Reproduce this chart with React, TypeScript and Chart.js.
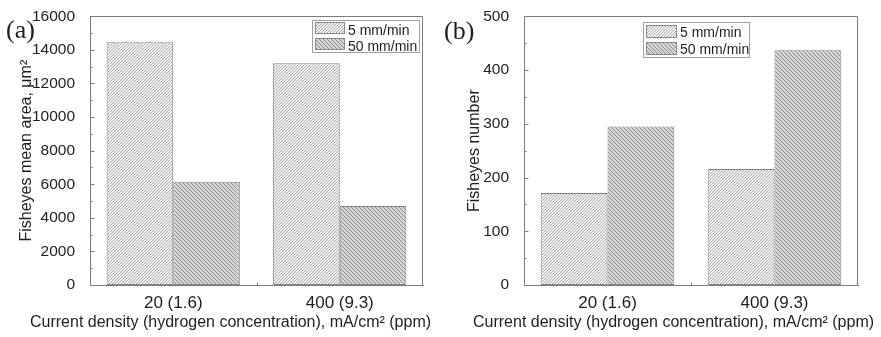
import React, { useEffect, useRef } from "react";
import { Chart, registerables } from "chart.js";

Chart.register(...registerables);

// ---------- data ----------
const categories = ["20 (1.6)", "400 (9.3)"];
const seriesLabels = ["5 mm/min", "50 mm/min"];
const meanArea5 = [14450, 13200];
const meanArea50 = [6150, 4700];
const number5 = [171, 216];
const number50 = [295, 437];
const areaMax = 16000;
const areaStep = 2000;
const numberMax = 500;
const numberStep = 100;
const xTitle = "Current density (hydrogen concentration), mA/cm\u00B2 (ppm)";
const areaTitle = "Fisheyes mean area, \u03BCm\u00B2";
const numberTitle = "Fisheyes number";

const SANS = "'Liberation Sans', Arial, sans-serif";
const SERIF = "'Liberation Serif', 'Times New Roman', serif";
const AXIS = "#7c7c7c";
const TEXT = "#1e1e1e";

function makeHatch(bg: string, fg: string, size: number, dir: "/" | "\\") {
  const c = document.createElement("canvas");
  c.width = size;
  c.height = size;
  const g = c.getContext("2d")!;
  g.fillStyle = bg;
  g.fillRect(0, 0, size, size);
  g.fillStyle = fg;
  for (let i = 0; i < size; i++) {
    if (dir === "/") g.fillRect(i, size - 1 - i, 1, 1);
    else g.fillRect(i, i, 1, 1);
  }
  return g.createPattern(c, "repeat")!;
}

const decoPlugin = {
  id: "deco",
  afterDraw(chart: any, _args: any, o: any) {
    const { ctx, chartArea: a, scales } = chart;
    const ys = scales.y;
    const xs = scales.x;
    ctx.save();
    ctx.strokeStyle = AXIS;
    ctx.lineWidth = 1;
    const L = Math.round(a.left) + 0.5;
    const R = Math.round(a.right) - 0.5;
    const T = Math.round(a.top) + 0.5;
    const B = Math.round(a.bottom) + 0.5;
    ctx.beginPath();
    ctx.moveTo(L, T);
    ctx.lineTo(R, T);
    ctx.lineTo(R, B);
    ctx.stroke();

    // inward major / minor ticks on y
    ctx.beginPath();
    const n = Math.round(ys.max / o.step) * 2;
    for (let k = 1; k < n; k++) {
      const v = (k * o.step) / 2;
      const py = Math.round(ys.getPixelForValue(v)) + 0.5;
      const len = k % 2 === 0 ? 4 : 2;
      ctx.moveTo(L, py);
      ctx.lineTo(L + len, py);
    }
    // x tick between categories
    const mid = Math.round((xs.getPixelForValue(0) + xs.getPixelForValue(1)) / 2) + 0.5;
    ctx.moveTo(mid, B);
    ctx.lineTo(mid, B - 3);
    ctx.stroke();

    // panel tag
    ctx.fillStyle = TEXT;
    ctx.font = `26px ${SERIF}`;
    ctx.textAlign = "left";
    ctx.textBaseline = "middle";
    ctx.fillText(o.tag, o.tagX, o.tagY);

    // y title
    ctx.font = `16px ${SANS}`;
    ctx.save();
    ctx.translate(o.yTitleX, (a.top + a.bottom) / 2);
    ctx.rotate(-Math.PI / 2);
    ctx.textAlign = "center";
    ctx.textBaseline = "middle";
    ctx.fillText(o.yTitle, 0, 0);
    ctx.restore();

    // x title
    ctx.textAlign = "left";
    ctx.textBaseline = "middle";
    ctx.fillText(xTitle, o.xTitleX, o.xTitleY);

    // legend
    const lg = o.legend;
    ctx.fillStyle = "#ffffff";
    ctx.fillRect(lg.x, lg.y, lg.w, lg.h);
    ctx.strokeStyle = "#a0a0a0";
    ctx.strokeRect(lg.x + 0.5, lg.y + 0.5, lg.w, lg.h);
    chart.data.datasets.forEach((ds: any, i: number) => {
      const sy = lg.sy + i * lg.row;
      ctx.fillStyle = ds.backgroundColor;
      ctx.fillRect(lg.sx, sy, lg.sw, lg.sh);
      ctx.strokeStyle = "#8a8a8a";
      ctx.strokeRect(lg.sx + 0.5, sy + 0.5, lg.sw, lg.sh);
      ctx.fillStyle = TEXT;
      ctx.font = `14px ${SANS}`;
      ctx.textBaseline = "alphabetic";
      ctx.textAlign = "left";
      ctx.fillText(ds.label, lg.tx, sy + lg.tb);
    });
    ctx.restore();
  },
};

function buildConfig(p: any, light: CanvasPattern, dark: CanvasPattern) {
  return {
    type: "bar",
    data: {
      labels: categories,
      datasets: [
        {
          label: seriesLabels[0],
          data: p.s5,
          backgroundColor: light,
          borderColor: "#858585",
          borderWidth: 1,
          borderSkipped: false,
          categoryPercentage: 0.8,
          barPercentage: 1,
        },
        {
          label: seriesLabels[1],
          data: p.s50,
          backgroundColor: dark,
          borderColor: "#858585",
          borderWidth: 1,
          borderSkipped: false,
          categoryPercentage: 0.8,
          barPercentage: 1,
        },
      ],
    },
    options: {
      responsive: false,
      animation: false,
      devicePixelRatio: 1,
      layout: { padding: { top: 16, right: p.padRight, left: 0, bottom: 0 } },
      plugins: {
        legend: { display: false },
        tooltip: { enabled: false },
        deco: p.deco,
      },
      scales: {
        x: {
          grid: { display: false },
          border: { display: true, color: AXIS, width: 1 },
          ticks: { font: { family: SANS, size: 17 }, color: TEXT, padding: 0 },
          afterFit: (s: any) => {
            s.height = 52;
          },
        },
        y: {
          min: 0,
          max: p.max,
          grid: { display: false },
          border: { display: true, color: AXIS, width: 1 },
          ticks: {
            stepSize: p.step,
            font: { family: SANS, size: 15.5 },
            color: TEXT,
            padding: 7,
            callback: (v: any) => String(v),
          },
          afterFit: (s: any) => {
            s.width = p.yWidth;
          },
        },
      },
    },
    plugins: [decoPlugin],
  };
}

export default function App() {
  const refA = useRef<HTMLCanvasElement>(null);
  const refB = useRef<HTMLCanvasElement>(null);

  useEffect(() => {
    const light = makeHatch("#f3f3f3", "#ababab", 3, "/");
    const dark = makeHatch("#d6d6d6", "#8c8c8c", 4, "\\");
    const cfgA = buildConfig(
      {
        s5: meanArea5,
        s50: meanArea50,
        max: areaMax,
        step: areaStep,
        padRight: 17,
        yWidth: 90,
        deco: {
          tag: "(a)",
          tagX: 6,
          tagY: 31,
          step: areaStep,
          yTitle: areaTitle,
          yTitleX: 27,
          xTitleX: 30,
          xTitleY: 323,
          legend: { x: 312, y: 20, w: 107, h: 32, sx: 315, sy: 22, sw: 29, sh: 11, row: 16, tx: 348, tb: 13 },
        },
      },
      light,
      dark
    );
    const cfgB = buildConfig(
      {
        s5: number5,
        s50: number50,
        max: numberMax,
        step: numberStep,
        padRight: 23,
        yWidth: 84,
        deco: {
          tag: "(b)",
          tagX: 4,
          tagY: 32,
          step: numberStep,
          yTitle: numberTitle,
          yTitleX: 35,
          xTitleX: 33,
          xTitleY: 323,
          legend: { x: 203, y: 22, w: 106, h: 35, sx: 206, sy: 25, sw: 30, sh: 12, row: 17, tx: 240, tb: 12 },
        },
      },
      light,
      dark
    );
    const a = new Chart(refA.current!, cfgA as any);
    const b = new Chart(refB.current!, cfgB as any);
    return () => {
      a.destroy();
      b.destroy();
    };
  }, []);

  return (
    <div style={{ position: "absolute", left: 0, top: 0, width: 881, height: 337, background: "#fff" }}>
      <canvas ref={refA} width={440} height={337} style={{ position: "absolute", left: 0, top: 0, width: 440, height: 337 }} />
      <canvas ref={refB} width={441} height={337} style={{ position: "absolute", left: 440, top: 0, width: 441, height: 337 }} />
    </div>
  );
}
